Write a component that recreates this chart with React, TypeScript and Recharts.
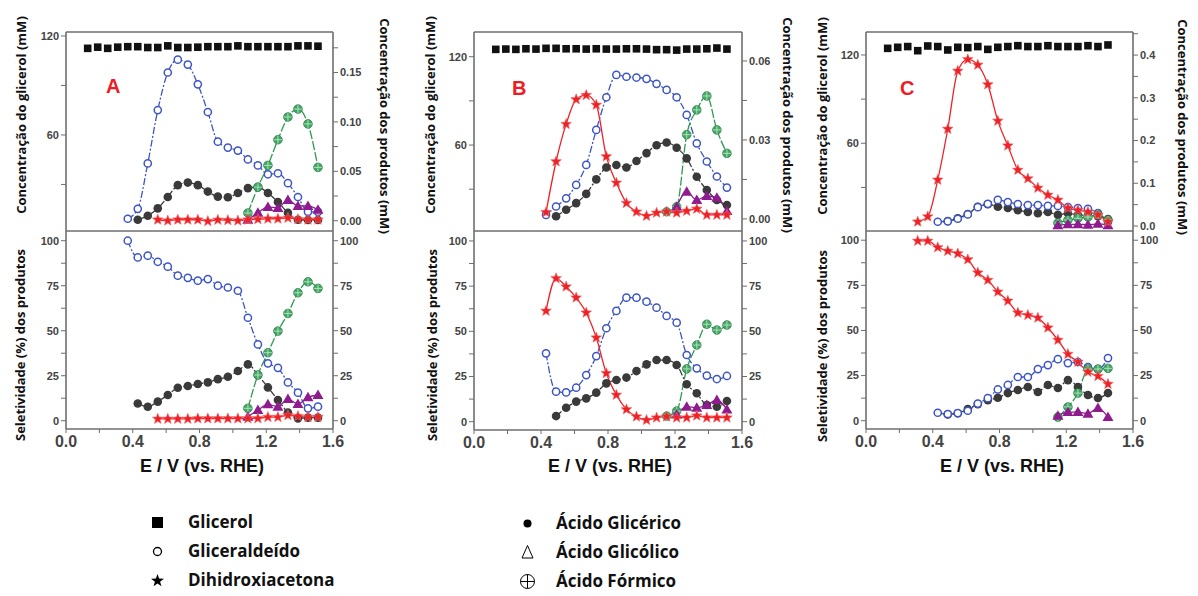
import React from 'react';
import { ComposedChart, Line, XAxis, YAxis } from 'recharts';

// potential grid (V vs. RHE)
const E_AB = [0.13, 0.19, 0.25, 0.31, 0.37, 0.43, 0.49, 0.55, 0.61, 0.67, 0.73, 0.79, 0.85, 0.91, 0.97, 1.03, 1.09, 1.15, 1.21, 1.27, 1.33, 1.39, 1.45, 1.51];
const E_C = [0.13, 0.19, 0.25, 0.31, 0.37, 0.43, 0.49, 0.55, 0.61, 0.67, 0.73, 0.79, 0.85, 0.91, 0.97, 1.03, 1.09, 1.15, 1.21, 1.27, 1.33, 1.39, 1.45];
const _ = null;

// ---- Panel A, concentration (glycerol mM left, products mM right)
const A_GLY = [112.5, 113.2, 112.5, 113.2, 113.5, 113.5, 113.0, 113.0, 114.0, 113.0, 113.0, 113.2, 113.5, 113.5, 113.5, 114.0, 113.5, 113.5, 113.5, 113.5, 113.5, 114.0, 114.0, 113.8];
const A_GAL = [_, _, _, _, 0.002, 0.012, 0.058, 0.112, 0.150, 0.163, 0.158, 0.138, 0.110, 0.080, 0.074, 0.071, 0.062, 0.056, 0.047, 0.048, 0.038, 0.024, 0.009, 0.009];
const A_GLA = [_, _, _, _, _, 0.001, 0.005, 0.0125, 0.024, 0.036, 0.0386, 0.036, 0.0295, 0.0244, 0.0237, 0.028, 0.033, 0.034, 0.028, 0.019, 0.008, 0.001, 0.0007, 0.0007];
const A_FOR = [_, _, _, _, _, _, _, _, _, _, _, _, _, _, _, _, 0.0078, 0.034, 0.056, 0.082, 0.105, 0.113, 0.098, 0.054];
const A_GCO = [_, _, _, _, _, _, _, _, _, _, _, _, _, _, _, _, 0.001, 0.008, 0.014, 0.013, 0.021, 0.015, 0.015, 0.011];
const A_DHA = [_, _, _, _, _, _, _, 0.001, 0.0, 0.001, 0.001, 0.001, -0.0005, 0.0008, 0.0005, 0.0, 0.001, 0.0015, 0.002, 0.002, 0.0028, 0.0015, 0.001, 0.001];
// ---- Panel A, selectivity (%)
const A_GAL_S = [_, _, _, _, 100, 90.7, 91.7, 88.3, 85.6, 80.6, 79.4, 77.8, 78.7, 75, 74, 72.2, 57.2, 42.4, 31.9, 29.4, 21.3, 15.6, 6.9, 7.8];
const A_GLA_S = [_, _, _, _, _, 9.6, 7.8, 10.6, 14.3, 18.3, 19.3, 20.4, 21.3, 23.1, 24.4, 27.6, 31.3, 25.4, 18.5, 11.5, 4.6, 1.3, 1.7, 1.7];
const A_FOR_S = [_, _, _, _, _, _, _, _, _, _, _, _, _, _, _, _, 6.9, 25.4, 37.8, 49.8, 59.6, 71.1, 77.2, 73.5];
const A_GCO_S = [_, _, _, _, _, _, _, _, _, _, _, _, _, _, _, _, 2.2, 5.9, 9.1, 7.8, 12, 9.3, 13, 14.3];
const A_DHA_S = [_, _, _, _, _, _, _, 1, 1, 1, 1, 1.2, 1.2, 1.2, 1.2, 1.2, 1.2, 1.3, 2, 2, 3, 2.5, 2, 2];

// ---- Panel B, concentration
const B_GLY = [125.0, 125.2, 125.0, 125.4, 125.2, 125.7, 125.7, 125.4, 125.4, 125.2, 125.4, 125.2, 125.2, 125.4, 125.4, 125.2, 124.8, 124.8, 124.5, 125.2, 125.2, 125.4, 125.9, 125.2];
const B_GAL = [_, _, _, _, _, 0.0015, 0.0047, 0.0078, 0.0129, 0.0205, 0.0338, 0.0462, 0.0547, 0.054, 0.0537, 0.0532, 0.0513, 0.049, 0.0462, 0.0395, 0.0287, 0.0218, 0.0161, 0.0119];
const B_GLA = [_, _, _, _, _, _, 0.001, 0.0035, 0.006, 0.0095, 0.015, 0.0195, 0.0205, 0.0195, 0.022, 0.025, 0.028, 0.029, 0.027, 0.023, 0.016, 0.011, 0.0072, 0.0053];
const B_FOR = [_, _, _, _, _, _, _, _, _, _, _, _, _, _, _, _, _, 0.0027, 0.0046, 0.032, 0.0414, 0.0467, 0.0338, 0.0249];
const B_GCO = [_, _, _, _, _, _, _, _, _, _, _, _, _, _, _, _, _, _, 0.0046, 0.0103, 0.0072, 0.0087, 0.008, 0.003];
const B_DHA = [_, _, _, _, _, 0.0025, 0.0218, 0.036, 0.0454, 0.047, 0.0433, 0.0237, 0.0137, 0.006, 0.0027, 0.0011, 0.0023, 0.0027, 0.0023, 0.003, 0.0038, 0.0015, 0.0015, 0.0015];
// ---- Panel B, selectivity (%)
const B_GAL_S = [_, _, _, _, _, 37.8, 16.6, 16.2, 18.8, 25.8, 36.3, 51.7, 61.3, 68.6, 68.6, 66.4, 63.1, 58.5, 54.8, 36.9, 29.5, 25.5, 23.6, 25.3];
const B_GLA_S = [_, _, _, _, _, _, 3.1, 7.7, 11.1, 12.9, 16.1, 21.2, 23.1, 24.4, 28, 31.7, 34.1, 34.1, 31.4, 20.7, 15.7, 9.2, 8.3, 11.4];
const B_FOR_S = [_, _, _, _, _, _, _, _, _, _, _, _, _, _, _, _, _, 3.1, 5.9, 29.2, 42.4, 53.9, 50.7, 53.5];
const B_GCO_S = [_, _, _, _, _, _, _, _, _, _, _, _, _, _, _, _, _, _, 4, 8.3, 7.7, 9.2, 12, 6.8];
const B_DHA_S = [_, _, _, _, _, 61.3, 79.3, 74.7, 68.6, 60.3, 46.5, 26.8, 14.8, 6.8, 2.8, 0.9, 2.2, 2.8, 2.2, 2.2, 3.3, 2.2, 2.2, 2.2];

// ---- Panel C, concentration
const C_GLY = [124.5, 125.2, 125.7, 122.9, 126.1, 125.7, 123.4, 125.2, 125.0, 125.7, 123.8, 125.2, 125.7, 126.3, 125.7, 125.7, 126.3, 125.7, 125.7, 125.7, 126.3, 125.7, 126.8];
const C_GAL = [_, _, _, _, _, 0.010, 0.011, 0.017, 0.027, 0.044, 0.052, 0.061, 0.056, 0.0515, 0.049, 0.049, 0.047, 0.047, 0.044, 0.042, 0.040, 0.030, 0.0094];
const C_GLA = [_, _, _, _, _, _, 0.0117, 0.018, 0.028, 0.045, 0.051, 0.045, 0.042, 0.037, 0.033, 0.030, 0.033, 0.026, 0.030, 0.026, 0.025, 0.023, 0.016];
const C_FOR = [_, _, _, _, _, _, _, _, _, _, _, _, _, _, _, _, _, 0.007, 0.014, 0.018, 0.021, 0.026, 0.014];
const C_GCO = [_, _, _, _, _, _, _, _, _, _, _, _, _, _, _, _, _, 0.002, 0.004, 0.004, 0.003, 0.005, 0.002];
const C_DHA = [_, _, _, 0.010, 0.022, 0.108, 0.227, 0.363, 0.390, 0.377, 0.331, 0.246, 0.188, 0.131, 0.111, 0.089, 0.0726, 0.061, 0.042, 0.037, 0.033, 0.026, 0.010];
// ---- Panel C, selectivity (%)
const C_GAL_S = [_, _, _, _, _, 4.4, 3.7, 4.2, 5.5, 9.5, 12.5, 17.3, 19.8, 24.2, 24.2, 28.6, 30.8, 34.1, 31.9, 32.5, 29.7, 28.6, 34.7];
const C_GLA_S = [_, _, _, _, _, _, 3.5, 4.1, 6.5, 9.2, 11.4, 12.7, 15.3, 17, 18.7, 15.9, 19.8, 18.1, 22.5, 18.7, 14.2, 12.6, 15.3];
const C_FOR_S = [_, _, _, _, _, _, _, _, _, _, _, _, _, _, _, _, _, 2.0, 7.6, 15.3, 28.6, 28.6, 29];
const C_GCO_S = [_, _, _, _, _, _, _, _, _, _, _, _, _, _, _, _, _, 2.7, 4.8, 4.8, 3.9, 7, 2.0];
const C_DHA_S = [_, _, _, 99.6, 99.6, 96, 94, 92.6, 89.3, 82, 77.9, 71.4, 66.4, 59.8, 58.5, 57, 51.5, 44.7, 36.9, 32.5, 27, 24.7, 20.3];

// axis ticks
const X_TICKS = [0, 0.2, 0.4, 0.6, 0.8, 1.0, 1.2, 1.4, 1.6];
const GLY_TICKS = [30, 60, 90, 120];
const A_R_TICKS = [0, 0.025, 0.05, 0.075, 0.1, 0.125, 0.15, 0.175];
const B_R_TICKS = [0, 0.015, 0.03, 0.045, 0.06];
const C_R_TICKS = [0, 0.05, 0.1, 0.15, 0.2, 0.25, 0.3, 0.35, 0.4, 0.45];
const SEL_TICKS = [0, 12.5, 25, 37.5, 50, 62.5, 75, 87.5, 100];

const LEGEND_LEFT = ['Glicerol', 'Gliceraldeído', 'Dihidroxiacetona'];
const LEGEND_RIGHT = ['Ácido Glicérico', 'Ácido Glicólico', 'Ácido Fórmico'];

const COLORS = {
  gly: '#111111',
  gal: '#3d55c5',
  gla: '#3a3a3a',
  dha: '#ec2227',
  gco: '#8e1c8e',
  for: '#2f9a50',
  axis: '#6e6e6e',
  tick: '#444444',
  letter: '#ee1c24',
};

const TICK_FONT = 'Liberation Sans, Arial, sans-serif';
const LABEL_FONT = '"Open Sans", "Noto Sans", sans-serif';

type Kind = 'sq' | 'oc' | 'fc' | 'tri' | 'star' | 'fx';

const pts = (e: number[], v: (number | null)[]) =>
  e.map((x, i) => ({ x, y: v[i] })).filter((p) => p.y != null);

function starPath(cx: number, cy: number, ro: number, ri: number) {
  const p: string[] = [];
  for (let k = 0; k < 10; k++) {
    const r = k % 2 === 0 ? ro : ri;
    const a = -Math.PI / 2 + (k * Math.PI) / 5;
    p.push(`${(cx + r * Math.cos(a)).toFixed(2)},${(cy + r * Math.sin(a)).toFixed(2)}`);
  }
  return p.join(' ');
}

function Mk({ kind, cx, cy }: { kind: Kind; cx?: number; cy?: number }) {
  if (cx == null || cy == null || isNaN(cx) || isNaN(cy)) return null;
  switch (kind) {
    case 'sq':
      return <rect x={cx - 3.8} y={cy - 3.8} width={7.6} height={7.6} fill={COLORS.gly} />;
    case 'oc':
      return <circle cx={cx} cy={cy} r={3.6} fill="#fff" stroke={COLORS.gal} strokeWidth={1.5} />;
    case 'fc':
      return <circle cx={cx} cy={cy} r={4.3} fill={COLORS.gla} />;
    case 'tri':
      return <polygon points={`${cx},${cy - 5.5} ${cx - 5.5},${cy + 4} ${cx + 5.5},${cy + 4}`} fill={COLORS.gco} />;
    case 'star':
      return <polygon points={starPath(cx, cy, 5.6, 2.4)} fill={COLORS.dha} stroke="#f36a6a" strokeWidth={0.6} />;
    case 'fx':
      return (
        <g>
          <circle cx={cx} cy={cy} r={4.3} fill="#44a865" stroke="#2a8046" strokeWidth={0.8} />
          <line x1={cx - 4} y1={cy} x2={cx + 4} y2={cy} stroke="#c5ebd0" strokeWidth={0.8} />
          <line x1={cx} y1={cy - 4} x2={cx} y2={cy + 4} stroke="#c5ebd0" strokeWidth={0.8} />
        </g>
      );
  }
  return null;
}

interface Series {
  data: { x: number; y: number | null }[];
  kind: Kind;
  stroke: string;
  dash?: string;
  axis: 'L' | 'R';
}

interface SubProps {
  left: number;
  top: number;
  w: number;
  h: number;
  upper: boolean;
  lDomain: [number, number];
  rDomain: [number, number];
  lTicks: number[];
  rTicks: number[];
  lFmt: (v: number, i: number) => string;
  rFmt: (v: number, i: number) => string;
  series: Series[];
}

const YW = 48;
const XT = 8;

function Sub({ left, top, w, h, upper, lDomain, rDomain, lTicks, rTicks, lFmt, rFmt, series }: SubProps) {
  const xb = upper ? 8 : 30;
  const xt = upper ? XT : 0;
  const tickStyle = { fontSize: 11, fontWeight: 700, fill: COLORS.tick, fontFamily: TICK_FONT };
  const axisLine = { stroke: COLORS.axis, strokeWidth: 1.6 };
  return (
    <div style={{ position: 'absolute', left: left - YW, top: top - xt }}>
      <ComposedChart width={w + 2 * YW} height={h + xt + xb} margin={{ top: 0, right: 0, bottom: 0, left: 0 }}>
        <XAxis
          xAxisId="b"
          type="number"
          dataKey="x"
          domain={[0, 1.6]}
          allowDataOverflow
          ticks={X_TICKS}
          height={xb}
          tickSize={4}
          tickMargin={3}
          axisLine={axisLine}
          tickLine={{ stroke: COLORS.axis }}
          tick={upper ? false : { fontSize: 16, fontWeight: 700, fill: COLORS.tick, fontFamily: TICK_FONT }}
          tickFormatter={(v: number) => (Math.round(v * 10) % 4 === 0 ? v.toFixed(1) : '')}
        />
        {upper && (
          <XAxis
            xAxisId="t"
            orientation="top"
            type="number"
            dataKey="x"
            domain={[0, 1.6]}
            allowDataOverflow
            ticks={X_TICKS}
            height={xt}
            tickSize={4}
            axisLine={axisLine}
            tickLine={{ stroke: COLORS.axis }}
            tick={false}
          />
        )}
        <YAxis
          yAxisId="L"
          type="number"
          domain={lDomain}
          allowDataOverflow
          ticks={lTicks}
          width={YW}
          tickSize={5}
          tickMargin={2}
          axisLine={axisLine}
          tickLine={{ stroke: COLORS.axis }}
          tick={tickStyle}
          tickFormatter={lFmt}
          interval={0}
        />
        <YAxis
          yAxisId="R"
          orientation="right"
          type="number"
          domain={rDomain}
          allowDataOverflow
          ticks={rTicks}
          width={YW}
          tickSize={5}
          tickMargin={2}
          axisLine={axisLine}
          tickLine={{ stroke: COLORS.axis }}
          tick={tickStyle}
          tickFormatter={rFmt}
          interval={0}
        />
        {series.map((s, si) => (
          <Line
            key={si}
            xAxisId="b"
            yAxisId={s.axis}
            data={s.data}
            dataKey="y"
            type="monotone"
            stroke={s.kind === 'sq' ? 'none' : s.stroke}
            strokeWidth={1.3}
            strokeDasharray={s.dash}
            dot={(p: any) => <Mk key={`d${si}-${p.index}`} kind={s.kind} cx={p.cx} cy={p.cy} />}
            activeDot={false}
            isAnimationActive={false}
          />
        ))}
      </ComposedChart>
    </div>
  );
}

const DASH_DOT = '7 2 2 2';

function concSeries(gly: (number | null)[], gal: (number | null)[], gla: (number | null)[], fo: (number | null)[], gco: (number | null)[], dha: (number | null)[], e: number[]): Series[] {
  return [
    { data: pts(e, gly), kind: 'sq', stroke: COLORS.gly, axis: 'L' },
    { data: pts(e, gla), kind: 'fc', stroke: COLORS.gla, dash: DASH_DOT, axis: 'R' },
    { data: pts(e, gal), kind: 'oc', stroke: COLORS.gal, dash: DASH_DOT, axis: 'R' },
    { data: pts(e, fo), kind: 'fx', stroke: COLORS.for, dash: '9 2', axis: 'R' },
    { data: pts(e, gco), kind: 'tri', stroke: COLORS.gco, axis: 'R' },
    { data: pts(e, dha), kind: 'star', stroke: COLORS.dha, axis: 'R' },
  ];
}

function selSeries(gal: (number | null)[], gla: (number | null)[], fo: (number | null)[], gco: (number | null)[], dha: (number | null)[], e: number[]): Series[] {
  return [
    { data: pts(e, gla), kind: 'fc', stroke: COLORS.gla, dash: DASH_DOT, axis: 'L' },
    { data: pts(e, gal), kind: 'oc', stroke: COLORS.gal, dash: DASH_DOT, axis: 'L' },
    { data: pts(e, fo), kind: 'fx', stroke: COLORS.for, dash: '9 2', axis: 'L' },
    { data: pts(e, gco), kind: 'tri', stroke: COLORS.gco, axis: 'L' },
    { data: pts(e, dha), kind: 'star', stroke: COLORS.dha, axis: 'L' },
  ];
}

const glyFmt = (v: number) => (v % 60 === 0 ? String(v) : '');
const evenFmt = (d: number) => (v: number, i: number) => (i % 2 === 0 ? v.toFixed(d) : '');
const selFmt = (v: number, i: number) => (i % 2 === 0 ? String(v) : '');

function RotLabel({ x, y, text, dir }: { x: number; y: number; text: string; dir: 1 | -1 }) {
  return (
    <div
      style={{
        position: 'absolute',
        left: x,
        top: y,
        transform: `translate(-50%, -50%) rotate(${dir * 90}deg)`,
        whiteSpace: 'nowrap',
        fontFamily: LABEL_FONT,
        fontWeight: 700,
        fontSize: 13,
        lineHeight: '16px',
        color: '#111',
      }}
    >
      {text}
    </div>
  );
}

function XTitle({ x }: { x: number }) {
  return (
    <div
      style={{
        position: 'absolute',
        left: x,
        top: 466,
        transform: 'translate(-50%, -50%)',
        whiteSpace: 'nowrap',
        fontFamily: TICK_FONT,
        fontWeight: 700,
        fontSize: 18,
        color: '#111',
      }}
    >
      E / V (vs. RHE)
    </div>
  );
}

function Letter({ x, y, t }: { x: number; y: number; t: string }) {
  return (
    <div style={{ position: 'absolute', left: x, top: y, fontFamily: TICK_FONT, fontWeight: 700, fontSize: 20, lineHeight: '20px', color: COLORS.letter }}>
      {t}
    </div>
  );
}

function LegendSym({ kind, x, y }: { kind: string; x: number; y: number }) {
  let el: React.ReactNode = null;
  if (kind === 'sq') el = <rect x={5} y={5} width={11} height={11} fill="#000" />;
  if (kind === 'oc') el = <circle cx={10.5} cy={10.5} r={4} fill="none" stroke="#000" strokeWidth={1.3} />;
  if (kind === 'star') el = <polygon points={starPath(10.5, 10.8, 6.8, 2.7)} fill="#000" />;
  if (kind === 'fc') el = <circle cx={10.5} cy={10.5} r={4} fill="#000" />;
  if (kind === 'tri') el = <polygon points="10.5,3.5 5,16 16,16" fill="none" stroke="#000" strokeWidth={1} />;
  if (kind === 'fx')
    el = (
      <g fill="none" stroke="#000" strokeWidth={1}>
        <circle cx={10.5} cy={10.5} r={7} />
        <line x1={3.5} y1={10.5} x2={17.5} y2={10.5} />
        <line x1={10.5} y1={3.5} x2={10.5} y2={17.5} />
      </g>
    );
  return (
    <svg width={21} height={21} style={{ position: 'absolute', left: x - 10.5, top: y - 10.5 }}>
      {el}
    </svg>
  );
}

function LegendText({ x, y, t }: { x: number; y: number; t: string }) {
  return (
    <div style={{ position: 'absolute', left: x, top: y - 12, lineHeight: '24px', fontFamily: LABEL_FONT, fontWeight: 700, fontSize: 17, color: '#111', whiteSpace: 'nowrap' }}>
      {t}
    </div>
  );
}

export default function App() {
  const rows = [522, 551, 580];
  const leftKinds = ['sq', 'oc', 'star'];
  const rightKinds = ['fc', 'tri', 'fx'];
  return (
    <div style={{ position: 'relative', width: 1198, height: 596, background: '#fff', overflow: 'hidden' }}>
      <style>{'body{margin:0}'}</style>

      {/* Panel A */}
      <Sub left={66} top={32} w={267} h={199} upper lDomain={[1.8, 122.4]} rDomain={[-0.0104, 0.191]} lTicks={GLY_TICKS} rTicks={A_R_TICKS} lFmt={glyFmt} rFmt={evenFmt(2)}
        series={concSeries(A_GLY, A_GAL, A_GLA, A_FOR, A_GCO, A_DHA, E_AB)} />
      <Sub left={66} top={231} w={267} h={198} upper={false} lDomain={[-4.6, 105.4]} rDomain={[-4.6, 105.4]} lTicks={SEL_TICKS} rTicks={SEL_TICKS} lFmt={selFmt} rFmt={selFmt}
        series={selSeries(A_GAL_S, A_GLA_S, A_FOR_S, A_GCO_S, A_DHA_S, E_AB)} />

      {/* Panel B */}
      <Sub left={474} top={32} w={268} h={199} upper lDomain={[1.6, 136.8]} rDomain={[-0.0046, 0.071]} lTicks={GLY_TICKS} rTicks={B_R_TICKS} lFmt={glyFmt} rFmt={evenFmt(2)}
        series={concSeries(B_GLY, B_GAL, B_GLA, B_FOR, B_GCO, B_DHA, E_AB)} />
      <Sub left={474} top={231} w={268} h={199} upper={false} lDomain={[-4.6, 105.5]} rDomain={[-4.6, 105.5]} lTicks={SEL_TICKS} rTicks={SEL_TICKS} lFmt={selFmt} rFmt={selFmt}
        series={selSeries(B_GAL_S, B_GLA_S, B_FOR_S, B_GCO_S, B_DHA_S, E_AB)} />

      {/* Panel C */}
      <Sub left={866} top={32} w={267} h={199} upper lDomain={[0.4, 135.6]} rDomain={[-0.0117, 0.454]} lTicks={GLY_TICKS} rTicks={C_R_TICKS} lFmt={glyFmt} rFmt={evenFmt(1)}
        series={concSeries(C_GLY, C_GAL, C_GLA, C_FOR, C_GCO, C_DHA, E_C)} />
      <Sub left={866} top={231} w={267} h={198} upper={false} lDomain={[-4.6, 105.1]} rDomain={[-4.6, 105.1]} lTicks={SEL_TICKS} rTicks={SEL_TICKS} lFmt={selFmt} rFmt={selFmt}
        series={selSeries(C_GAL_S, C_GLA_S, C_FOR_S, C_GCO_S, C_DHA_S, E_C)} />

      <Letter x={106} y={76} t="A" />
      <Letter x={512} y={78} t="B" />
      <Letter x={900} y={78} t="C" />

      <RotLabel x={21} y={115} dir={-1} text="Concentração do glicerol (mM)" />
      <RotLabel x={20} y={345} dir={-1} text="Seletividade (%) dos produtos" />
      <RotLabel x={385} y={126} dir={1} text="Concentração dos produtos (mM)" />

      <RotLabel x={430} y={115} dir={-1} text="Concentração do glicerol (mM)" />
      <RotLabel x={432} y={345} dir={-1} text="Seletividade (%) dos produtos" />
      <RotLabel x={788} y={125} dir={1} text="Concentração dos produtos (mM)" />

      <RotLabel x={822} y={116} dir={-1} text="Concentração do glicerol (mM)" />
      <RotLabel x={822} y={346} dir={-1} text="Seletividade (%) dos produtos" />
      <RotLabel x={1183} y={127} dir={1} text="Concentração dos produtos (mM)" />

      <XTitle x={202} />
      <XTitle x={610} />
      <XTitle x={1002} />

      {rows.map((y, i) => (
        <React.Fragment key={i}>
          <LegendSym kind={leftKinds[i]} x={157} y={y} />
          <LegendText x={188} y={y} t={LEGEND_LEFT[i]} />
          <LegendSym kind={rightKinds[i]} x={527} y={y + 1} />
          <LegendText x={556} y={y + 1} t={LEGEND_RIGHT[i]} />
        </React.Fragment>
      ))}
    </div>
  );
}
